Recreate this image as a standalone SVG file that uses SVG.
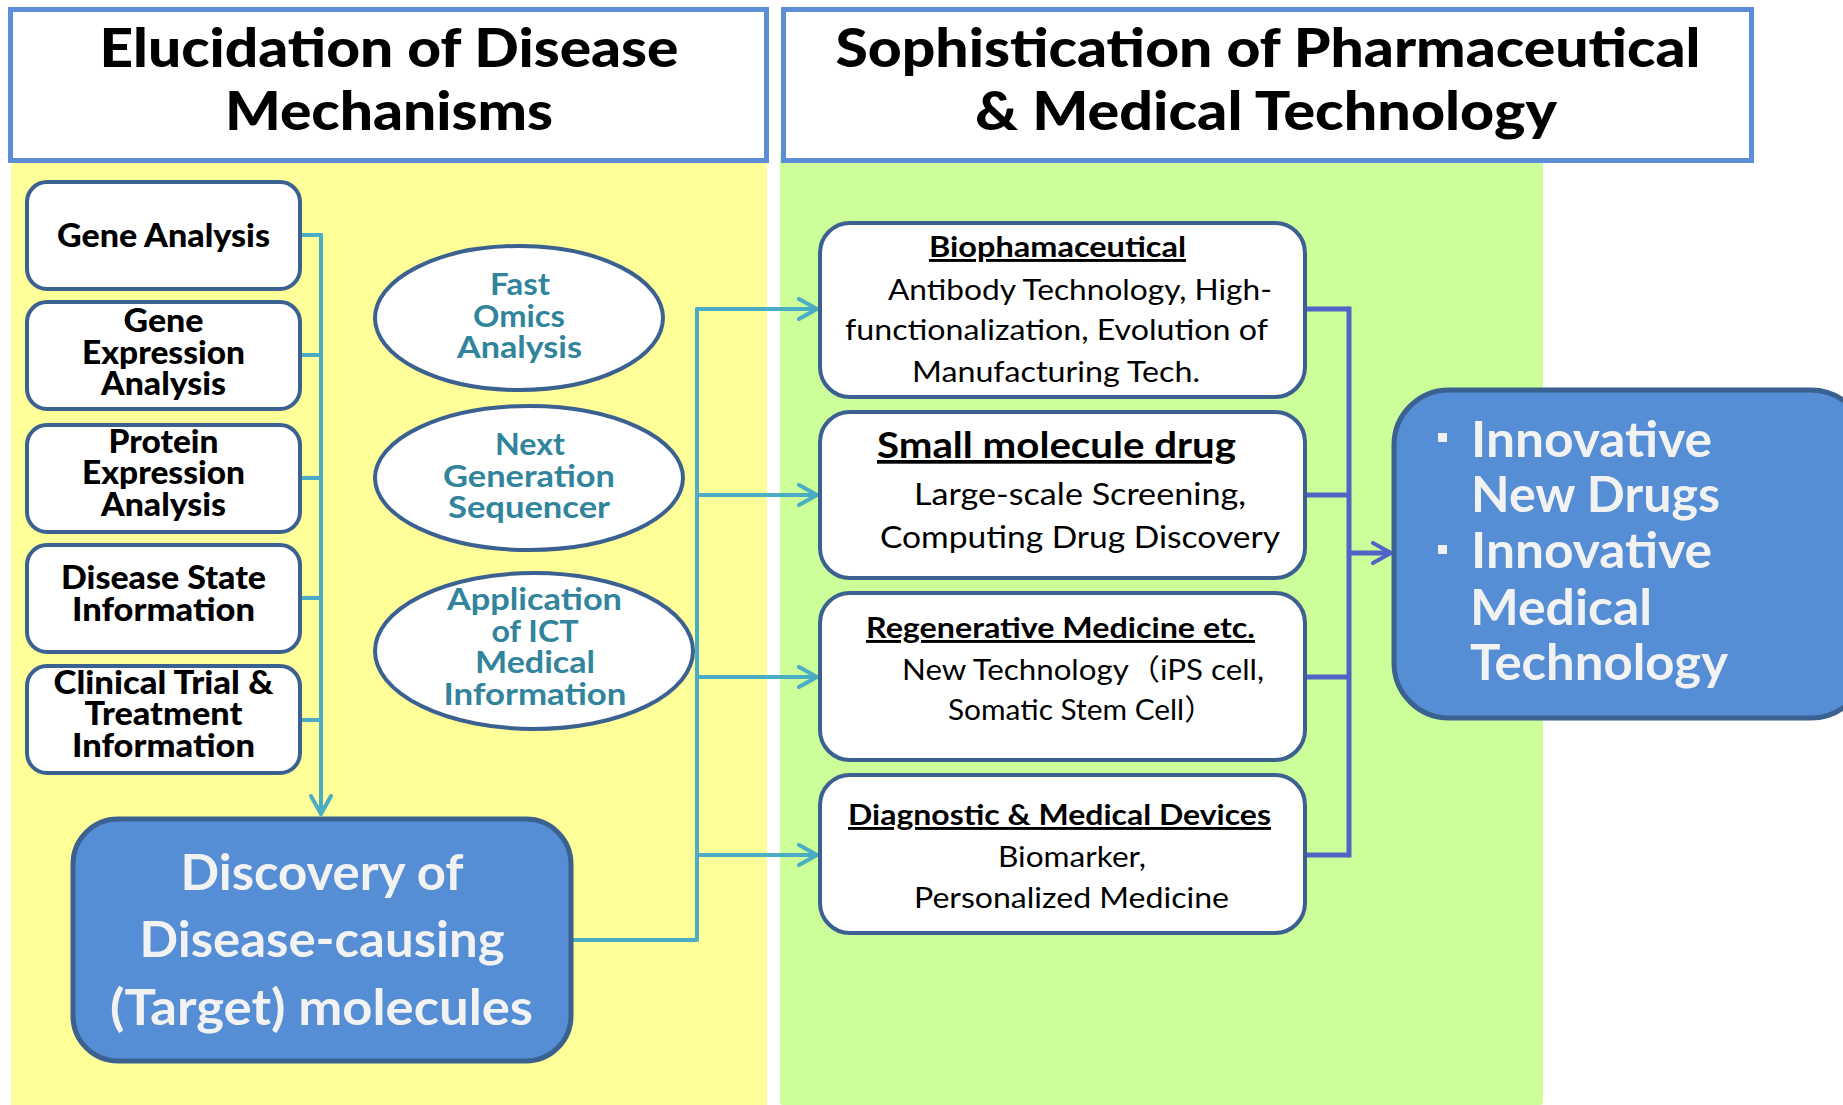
<svg xmlns="http://www.w3.org/2000/svg" width="1843" height="1105" viewBox="0 0 1843 1105">
<style>
  text { font-family: Lato, "Liberation Sans", "Noto Sans CJK JP", sans-serif; }
  .hdr { fill: #fff; stroke: #5B8ED6; stroke-width: 5; }
  .hdrt { font-size: 54px; font-weight: 900; fill: #000; }
  .lbox { fill: #fff; stroke: #3B6190; stroke-width: 4; }
  .lt { font-size: 33px; font-weight: 900; fill: #000; }
  .ell { fill: #fff; stroke: #3B6190; stroke-width: 4; }
  .et { font-size: 30px; font-weight: 700; fill: #31849B; }
  .bbox { fill: #558ED5; stroke: #3B6190; stroke-width: 5; }
  .bt { font-size: 49px; font-weight: 700; fill: #F2F2F2; }
  .rbox { fill: #fff; stroke: #3B6190; stroke-width: 4; }
  .rh { font-size: 29px; font-weight: 700; fill: #000; text-decoration: underline; }
  .rh2 { font-size: 37px; font-weight: 700; fill: #000; text-decoration: underline; }
  .rt { font-size: 29px; font-weight: 400; fill: #000; }
  .rt2 { font-size: 31px; font-weight: 400; fill: #000; }
  .cl { fill: none; stroke: #4BACC6; stroke-width: 4; stroke-linecap: round; stroke-linejoin: round; }
  .cr { fill: none; stroke: #5064C8; stroke-width: 5; stroke-linecap: butt; stroke-linejoin: miter; }
</style>
<defs>
  <marker id="arrT" viewBox="0 0 24 24" refX="21" refY="12" markerWidth="24" markerHeight="24" markerUnits="userSpaceOnUse" orient="auto">
    <path d="M3,2 L21,12 L3,22" fill="none" stroke="#4BACC6" stroke-width="4" stroke-linecap="round" stroke-linejoin="round"/>
  </marker>
  <marker id="arrP" viewBox="0 0 24 24" refX="21" refY="12" markerWidth="24" markerHeight="24" markerUnits="userSpaceOnUse" orient="auto">
    <path d="M3,2 L21,12 L3,22" fill="none" stroke="#5064C8" stroke-width="4" stroke-linecap="round" stroke-linejoin="round"/>
  </marker>
</defs>

<rect x="0" y="0" width="1843" height="1105" fill="#fff"/>
<!-- backgrounds -->
<rect x="11" y="155" width="756" height="950" fill="#FFFF99"/>
<rect x="780" y="152" width="763" height="953" rx="3" fill="#CCFF99"/>

<!-- headers -->
<g id="header-left">
  <rect class="hdr" x="10.5" y="9.5" width="756" height="151"/>
  <text class="hdrt" x="389" y="67" text-anchor="middle" textLength="579" lengthAdjust="spacingAndGlyphs">Elucidation of Disease</text>
  <text class="hdrt" x="389" y="130" text-anchor="middle" textLength="328" lengthAdjust="spacingAndGlyphs">Mechanisms</text>
</g>
<g id="header-right">
  <rect class="hdr" x="783.5" y="9.5" width="968" height="151"/>
  <text class="hdrt" x="1268" y="67" text-anchor="middle" textLength="865" lengthAdjust="spacingAndGlyphs">Sophistication of Pharmaceutical</text>
  <text class="hdrt" x="1266" y="130" text-anchor="middle" textLength="582" lengthAdjust="spacingAndGlyphs">&amp; Medical Technology</text>
</g>

<!-- connectors -->
<g id="connectors">
  <path class="cl" d="M300,235 H321 M300,355 H321 M300,478 H321 M300,598 H321 M300,720 H321"/>
  <path class="cl" d="M321,235 V814" marker-end="url(#arrT)"/>
  <path class="cl" d="M571,940 H697 V309"/>
  <path class="cl" d="M697,309 H817" marker-end="url(#arrT)"/>
  <path class="cl" d="M697,495 H817" marker-end="url(#arrT)"/>
  <path class="cl" d="M697,677 H817" marker-end="url(#arrT)"/>
  <path class="cl" d="M697,855 H817" marker-end="url(#arrT)"/>
  <path class="cr" d="M1305,309 H1349 M1305,495 H1349 M1305,677 H1349 M1305,855 H1349"/>
  <path class="cr" d="M1349,306.5 V857.5"/>
  <path class="cr" d="M1349,553 H1391" marker-end="url(#arrP)"/>
</g>

<!-- left input boxes -->
<g id="gene-analysis">
  <rect class="lbox" x="27" y="182" width="273" height="107" rx="20"/>
  <text class="lt" x="163.5" y="247" text-anchor="middle" textLength="213" lengthAdjust="spacingAndGlyphs">Gene Analysis</text>
</g>
<g id="gene-expression">
  <rect class="lbox" x="27" y="302" width="273" height="107" rx="20"/>
  <text class="lt" x="163.5" y="332" text-anchor="middle" textLength="80" lengthAdjust="spacingAndGlyphs">Gene</text>
  <text class="lt" x="163.5" y="364" text-anchor="middle" textLength="163" lengthAdjust="spacingAndGlyphs">Expression</text>
  <text class="lt" x="163.5" y="395" text-anchor="middle" textLength="125" lengthAdjust="spacingAndGlyphs">Analysis</text>
</g>
<g id="protein-expression">
  <rect class="lbox" x="27" y="425" width="273" height="107" rx="20"/>
  <text class="lt" x="163.5" y="453" text-anchor="middle" textLength="110" lengthAdjust="spacingAndGlyphs">Protein</text>
  <text class="lt" x="163.5" y="484" text-anchor="middle" textLength="163" lengthAdjust="spacingAndGlyphs">Expression</text>
  <text class="lt" x="163.5" y="516" text-anchor="middle" textLength="125" lengthAdjust="spacingAndGlyphs">Analysis</text>
</g>
<g id="disease-state">
  <rect class="lbox" x="27" y="545" width="273" height="107" rx="20"/>
  <text class="lt" x="163.5" y="589" text-anchor="middle" textLength="205" lengthAdjust="spacingAndGlyphs">Disease State</text>
  <text class="lt" x="163.5" y="621" text-anchor="middle" textLength="183" lengthAdjust="spacingAndGlyphs">Information</text>
</g>
<g id="clinical-trial">
  <rect class="lbox" x="27" y="666" width="273" height="107" rx="20"/>
  <text class="lt" x="163.5" y="694" text-anchor="middle" textLength="220" lengthAdjust="spacingAndGlyphs">Clinical Trial &amp;</text>
  <text class="lt" x="163.5" y="725" text-anchor="middle" textLength="158" lengthAdjust="spacingAndGlyphs">Treatment</text>
  <text class="lt" x="163.5" y="757" text-anchor="middle" textLength="183" lengthAdjust="spacingAndGlyphs">Information</text>
</g>

<!-- ellipses -->
<g id="fast-omics">
  <ellipse class="ell" cx="519" cy="318" rx="144" ry="72"/>
  <text class="et" x="520" y="295" text-anchor="middle" textLength="60" lengthAdjust="spacingAndGlyphs">Fast</text>
  <text class="et" x="519" y="327" text-anchor="middle" textLength="92" lengthAdjust="spacingAndGlyphs">Omics</text>
  <text class="et" x="519.5" y="358" text-anchor="middle" textLength="125" lengthAdjust="spacingAndGlyphs">Analysis</text>
</g>
<g id="next-gen">
  <ellipse class="ell" cx="529" cy="478" rx="154" ry="72"/>
  <text class="et" x="530" y="455" text-anchor="middle" textLength="70" lengthAdjust="spacingAndGlyphs">Next</text>
  <text class="et" x="529" y="487" text-anchor="middle" textLength="172" lengthAdjust="spacingAndGlyphs">Generation</text>
  <text class="et" x="529" y="518" text-anchor="middle" textLength="162" lengthAdjust="spacingAndGlyphs">Sequencer</text>
</g>
<g id="ict">
  <ellipse class="ell" cx="534" cy="651" rx="159" ry="78"/>
  <text class="et" x="534.5" y="610" text-anchor="middle" textLength="175" lengthAdjust="spacingAndGlyphs">Application</text>
  <text class="et" x="535" y="642" text-anchor="middle" textLength="87" lengthAdjust="spacingAndGlyphs">of ICT</text>
  <text class="et" x="535" y="673" text-anchor="middle" textLength="120" lengthAdjust="spacingAndGlyphs">Medical</text>
  <text class="et" x="535" y="705" text-anchor="middle" textLength="183" lengthAdjust="spacingAndGlyphs">Information</text>
</g>

<!-- discovery -->
<g id="discovery">
  <rect class="bbox" x="73" y="819" width="498" height="242" rx="45"/>
  <text class="bt" x="322" y="890" text-anchor="middle" textLength="283" lengthAdjust="spacingAndGlyphs">Discovery of</text>
  <text class="bt" x="322" y="957" text-anchor="middle" textLength="365" lengthAdjust="spacingAndGlyphs">Disease-causing</text>
  <text class="bt" x="321.5" y="1025" text-anchor="middle" textLength="423" lengthAdjust="spacingAndGlyphs">(Target) molecules</text>
</g>

<!-- right boxes -->
<g id="biopharmaceutical">
  <rect class="rbox" x="820" y="223" width="485" height="174" rx="30"/>
  <text class="rh" x="929" y="257" textLength="257" lengthAdjust="spacingAndGlyphs">Biophamaceutical</text>
  <text class="rt" x="888" y="300" textLength="384" lengthAdjust="spacingAndGlyphs">Antibody Technology, High-</text>
  <text class="rt" x="845" y="340" textLength="423" lengthAdjust="spacingAndGlyphs">functionalization, Evolution of</text>
  <text class="rt" x="912" y="382" textLength="288" lengthAdjust="spacingAndGlyphs">Manufacturing Tech.</text>
</g>
<g id="small-molecule">
  <rect class="rbox" x="820" y="412" width="485" height="166" rx="30"/>
  <text class="rh2" x="877" y="458" textLength="359" lengthAdjust="spacingAndGlyphs">Small molecule drug</text>
  <text class="rt2" x="914" y="505" textLength="332" lengthAdjust="spacingAndGlyphs">Large-scale Screening,</text>
  <text class="rt2" x="880" y="548" textLength="400" lengthAdjust="spacingAndGlyphs">Computing Drug Discovery</text>
</g>
<g id="regenerative">
  <rect class="rbox" x="820" y="593" width="485" height="167" rx="30"/>
  <text class="rh" x="866" y="638" textLength="389" lengthAdjust="spacingAndGlyphs">Regenerative Medicine etc.</text>
  <text class="rt" x="902" y="680" textLength="362" lengthAdjust="spacingAndGlyphs">New Technology（iPS cell,</text>
  <text class="rt" x="948" y="720" textLength="266" lengthAdjust="spacingAndGlyphs">Somatic Stem Cell）</text>
</g>
<g id="diagnostic">
  <rect class="rbox" x="820" y="775" width="485" height="158" rx="30"/>
  <text class="rh" x="848" y="825" textLength="423" lengthAdjust="spacingAndGlyphs">Diagnostic &amp; Medical Devices</text>
  <text class="rt" x="998" y="867" textLength="148" lengthAdjust="spacingAndGlyphs">Biomarker,</text>
  <text class="rt" x="914" y="908" textLength="315" lengthAdjust="spacingAndGlyphs">Personalized Medicine</text>
</g>

<!-- innovation -->
<g id="innovative">
  <rect class="bbox" x="1394" y="390" width="472" height="328" rx="55"/>
  <rect x="1438" y="433" width="9" height="9" fill="#F2F2F2"/>
  <rect x="1438" y="545" width="9" height="9" fill="#F2F2F2"/>
  <text class="bt" x="1471" y="457" textLength="241" lengthAdjust="spacingAndGlyphs">Innovative</text>
  <text class="bt" x="1471" y="512" textLength="249" lengthAdjust="spacingAndGlyphs">New Drugs</text>
  <text class="bt" x="1471" y="568" textLength="241" lengthAdjust="spacingAndGlyphs">Innovative</text>
  <text class="bt" x="1470" y="625" textLength="182" lengthAdjust="spacingAndGlyphs">Medical</text>
  <text class="bt" x="1470" y="680" textLength="258" lengthAdjust="spacingAndGlyphs">Technology</text>
</g>
</svg>
